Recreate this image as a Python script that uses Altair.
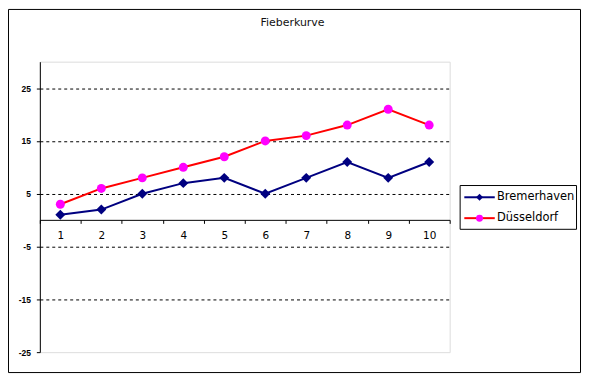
import altair as alt
import pandas as pd

TITLE = "Fieberkurve"
categories = [1, 2, 3, 4, 5, 6, 7, 8, 9, 10]
series = ["Bremerhaven", "Düsseldorf"]
bremerhaven = [1, 2, 5, 7, 8, 5, 8, 11, 8, 11]
duesseldorf = [3, 6, 8, 10, 12, 15, 16, 18, 21, 18]
y_ticks = [-25, -15, -5, 5, 15, 25]
y_domain = [-25, 30]

line_colors = ["#000080", "#FF0000"]
marker_colors = ["#000080", "#FF00FF"]
marker_shapes = ["diamond", "circle"]
marker_sizes = [100, 81]
legend_marker_sizes = [49, 49]

rows = []
for s, vals in zip(series, [bremerhaven, duesseldorf]):
    for c, v in zip(categories, vals):
        rows.append({"x": c, "y": v, "series": s})
df = pd.DataFrame(rows)

W, H = 412, 292
one = alt.Data(values=[{}])

xenc = alt.X(
    "x:O",
    scale=alt.Scale(type="band", paddingInner=0, paddingOuter=0),
    axis=alt.Axis(
        title=None, orient="bottom", offset=-133, labelAngle=0, tickBand="extent",
        domainColor="black", tickColor="black", tickSize=3.5, domainWidth=1, tickWidth=1,
        labelFont="DejaVu Sans", labelFontSize=10.5, labelColor="black", labelPadding=7,
        grid=False,
    ),
)
yenc = alt.Y(
    "y:Q",
    scale=alt.Scale(domain=y_domain, nice=False, zero=False),
    axis=alt.Axis(
        title=None, values=y_ticks, grid=True, gridColor="black", gridDash=[3, 3], gridWidth=1,
        gridOpacity={"condition": {"test": "datum.value === -25", "value": 0}, "value": 1},
        domainColor="black", tickColor="black", tickSize=3.5, labelPadding=6,
        labelFont="Liberation Sans", labelFontWeight="bold", labelFontSize=8.5,
        labelColor="black", labelExpr="'' + datum.value",
    ),
)

layers = []

# outer chart border
layers.append(
    alt.Chart(one).mark_rect(fill="transparent", stroke="black", strokeWidth=1).encode(
        x=alt.value(-31.5), x2=alt.value(543.5), y=alt.value(-52.5), y2=alt.value(312.5)
    )
)

for i, s in enumerate(series):
    base = alt.Chart(df).transform_filter(alt.datum.series == s)
    layers.append(
        base.mark_line(color=line_colors[i], strokeWidth=2).encode(x=xenc, y=yenc)
    )
    layers.append(
        base.mark_point(shape=marker_shapes[i], filled=True, fill=marker_colors[i],
                        opacity=1, size=marker_sizes[i], strokeWidth=0).encode(x=xenc, y=yenc)
    )

# title
layers.append(
    alt.Chart(one).mark_text(text=TITLE, font="DejaVu Sans", fontSize=11, color="#111111",
                             align="center", baseline="middle").encode(
        x=alt.value(254), y=alt.value(-38.5)
    )
)

# legend box
layers.append(
    alt.Chart(one).mark_rect(fill="white", stroke="black", strokeWidth=1).encode(
        x=alt.value(422.5), x2=alt.value(539.5), y=alt.value(124.5), y2=alt.value(168.5)
    )
)
for i, s in enumerate(series):
    ly = 136.3 + i * 21
    layers.append(
        alt.Chart(one).mark_rule(color=line_colors[i], strokeWidth=2).encode(
            x=alt.value(426.7), x2=alt.value(457.3), y=alt.value(ly)
        )
    )
    layers.append(
        alt.Chart(one).mark_point(shape=marker_shapes[i], filled=True, fill=marker_colors[i],
                                  opacity=1, size=legend_marker_sizes[i], strokeWidth=0).encode(
            x=alt.value(442), y=alt.value(ly)
        )
    )
    layers.append(
        alt.Chart(one).mark_text(text=s, font="DejaVu Sans", fontSize=11.5, color="black",
                                 align="left", baseline="middle").encode(
            x=alt.value(459.5), y=alt.value(ly)
        )
    )

chart = alt.layer(*layers).properties(
    width=W, height=H,
    padding={"left": 32, "top": 53, "right": 132, "bottom": 21},
    autosize=alt.AutoSizeParams(type="none"),
).configure_view(fill="#FFFF99", strokeOpacity=0).configure(background="white")

chart.save("out.html", embed_options={"renderer": "svg", "actions": False})
